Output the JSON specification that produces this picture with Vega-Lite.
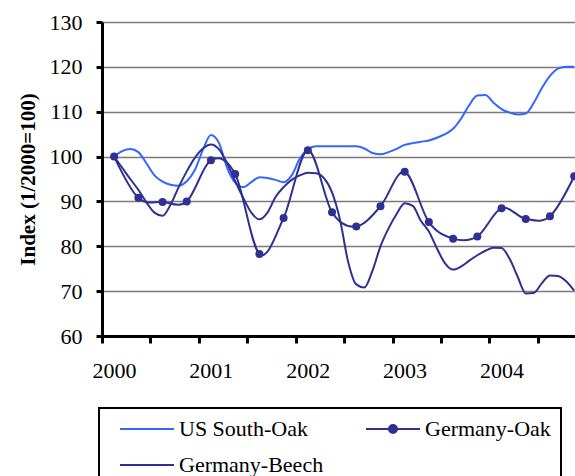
{
  "$schema": "https://vega.github.io/schema/vega-lite/v6.json",
  "autosize": {"type": "none"},
  "width": 473,
  "height": 314,
  "padding": {"left": 102, "top": 22, "right": 0, "bottom": 140},
  "config": {"view": {"stroke": null}, "font": "Liberation Serif"},
  "datasets": {
    "us": [
      {"series": "US South-Oak", "month": 0, "index": 100},
      {"series": "US South-Oak", "month": 1, "index": 101.2},
      {"series": "US South-Oak", "month": 2, "index": 101.7},
      {"series": "US South-Oak", "month": 3, "index": 101.0},
      {"series": "US South-Oak", "month": 4, "index": 98.5},
      {"series": "US South-Oak", "month": 5, "index": 95.8},
      {"series": "US South-Oak", "month": 6, "index": 94.4},
      {"series": "US South-Oak", "month": 7, "index": 93.7},
      {"series": "US South-Oak", "month": 8, "index": 93.5},
      {"series": "US South-Oak", "month": 9, "index": 94.5},
      {"series": "US South-Oak", "month": 10, "index": 97.0},
      {"series": "US South-Oak", "month": 11, "index": 101.5},
      {"series": "US South-Oak", "month": 12, "index": 104.8},
      {"series": "US South-Oak", "month": 13, "index": 103.0},
      {"series": "US South-Oak", "month": 14, "index": 97.5},
      {"series": "US South-Oak", "month": 15, "index": 94.2},
      {"series": "US South-Oak", "month": 16, "index": 93.2},
      {"series": "US South-Oak", "month": 17, "index": 94.3},
      {"series": "US South-Oak", "month": 18, "index": 95.4},
      {"series": "US South-Oak", "month": 19, "index": 95.2},
      {"series": "US South-Oak", "month": 20, "index": 94.8},
      {"series": "US South-Oak", "month": 21, "index": 94.3},
      {"series": "US South-Oak", "month": 22, "index": 95.8},
      {"series": "US South-Oak", "month": 23, "index": 99.5},
      {"series": "US South-Oak", "month": 24, "index": 101.6},
      {"series": "US South-Oak", "month": 25, "index": 102.3},
      {"series": "US South-Oak", "month": 26, "index": 102.3},
      {"series": "US South-Oak", "month": 27, "index": 102.3},
      {"series": "US South-Oak", "month": 28, "index": 102.3},
      {"series": "US South-Oak", "month": 29, "index": 102.3},
      {"series": "US South-Oak", "month": 30, "index": 102.3},
      {"series": "US South-Oak", "month": 31, "index": 101.8},
      {"series": "US South-Oak", "month": 32, "index": 100.8},
      {"series": "US South-Oak", "month": 33, "index": 100.5},
      {"series": "US South-Oak", "month": 34, "index": 101.0},
      {"series": "US South-Oak", "month": 35, "index": 101.7},
      {"series": "US South-Oak", "month": 36, "index": 102.6},
      {"series": "US South-Oak", "month": 37, "index": 103.0},
      {"series": "US South-Oak", "month": 38, "index": 103.3},
      {"series": "US South-Oak", "month": 39, "index": 103.6},
      {"series": "US South-Oak", "month": 40, "index": 104.2},
      {"series": "US South-Oak", "month": 41, "index": 105.0},
      {"series": "US South-Oak", "month": 42, "index": 106.2},
      {"series": "US South-Oak", "month": 43, "index": 108.5},
      {"series": "US South-Oak", "month": 44, "index": 111.5},
      {"series": "US South-Oak", "month": 45, "index": 113.6},
      {"series": "US South-Oak", "month": 46, "index": 113.7},
      {"series": "US South-Oak", "month": 47, "index": 112.0},
      {"series": "US South-Oak", "month": 48, "index": 110.6},
      {"series": "US South-Oak", "month": 49, "index": 109.8},
      {"series": "US South-Oak", "month": 50, "index": 109.4},
      {"series": "US South-Oak", "month": 51, "index": 109.6},
      {"series": "US South-Oak", "month": 52, "index": 112.0},
      {"series": "US South-Oak", "month": 53, "index": 115.3},
      {"series": "US South-Oak", "month": 54, "index": 118.0},
      {"series": "US South-Oak", "month": 55, "index": 119.6},
      {"series": "US South-Oak", "month": 56, "index": 120.0},
      {"series": "US South-Oak", "month": 57, "index": 120.0}
    ],
    "beech": [
      {"series": "Germany-Beech", "month": 0, "index": 100},
      {"series": "Germany-Beech", "month": 1, "index": 97.5},
      {"series": "Germany-Beech", "month": 2, "index": 95.0},
      {"series": "Germany-Beech", "month": 3, "index": 92.6},
      {"series": "Germany-Beech", "month": 4, "index": 89.8},
      {"series": "Germany-Beech", "month": 5, "index": 87.5},
      {"series": "Germany-Beech", "month": 6, "index": 86.8},
      {"series": "Germany-Beech", "month": 7, "index": 89.3},
      {"series": "Germany-Beech", "month": 8, "index": 93.2},
      {"series": "Germany-Beech", "month": 9, "index": 96.7},
      {"series": "Germany-Beech", "month": 10, "index": 99.7},
      {"series": "Germany-Beech", "month": 11, "index": 101.8},
      {"series": "Germany-Beech", "month": 12, "index": 102.7},
      {"series": "Germany-Beech", "month": 13, "index": 101.6},
      {"series": "Germany-Beech", "month": 14, "index": 98.5},
      {"series": "Germany-Beech", "month": 15, "index": 94.5},
      {"series": "Germany-Beech", "month": 16, "index": 90.8},
      {"series": "Germany-Beech", "month": 17, "index": 87.5},
      {"series": "Germany-Beech", "month": 18, "index": 86.0},
      {"series": "Germany-Beech", "month": 19, "index": 87.5},
      {"series": "Germany-Beech", "month": 20, "index": 91.0},
      {"series": "Germany-Beech", "month": 21, "index": 93.2},
      {"series": "Germany-Beech", "month": 22, "index": 94.8},
      {"series": "Germany-Beech", "month": 23, "index": 95.8},
      {"series": "Germany-Beech", "month": 24, "index": 96.4},
      {"series": "Germany-Beech", "month": 25, "index": 96.3},
      {"series": "Germany-Beech", "month": 26, "index": 95.2},
      {"series": "Germany-Beech", "month": 27, "index": 92.0},
      {"series": "Germany-Beech", "month": 28, "index": 85.8},
      {"series": "Germany-Beech", "month": 29, "index": 76.5},
      {"series": "Germany-Beech", "month": 30, "index": 71.5},
      {"series": "Germany-Beech", "month": 31, "index": 70.8},
      {"series": "Germany-Beech", "month": 32, "index": 74.5},
      {"series": "Germany-Beech", "month": 33, "index": 80.0},
      {"series": "Germany-Beech", "month": 34, "index": 84.0},
      {"series": "Germany-Beech", "month": 35, "index": 87.2},
      {"series": "Germany-Beech", "month": 36, "index": 89.6},
      {"series": "Germany-Beech", "month": 37, "index": 89.0},
      {"series": "Germany-Beech", "month": 38, "index": 85.7},
      {"series": "Germany-Beech", "month": 39, "index": 83.3},
      {"series": "Germany-Beech", "month": 40, "index": 79.5},
      {"series": "Germany-Beech", "month": 41, "index": 76.2},
      {"series": "Germany-Beech", "month": 42, "index": 74.8},
      {"series": "Germany-Beech", "month": 43, "index": 75.5},
      {"series": "Germany-Beech", "month": 44, "index": 76.8},
      {"series": "Germany-Beech", "month": 45, "index": 78.0},
      {"series": "Germany-Beech", "month": 46, "index": 79.0},
      {"series": "Germany-Beech", "month": 47, "index": 79.7},
      {"series": "Germany-Beech", "month": 48, "index": 79.6},
      {"series": "Germany-Beech", "month": 49, "index": 77.2},
      {"series": "Germany-Beech", "month": 50, "index": 73.2},
      {"series": "Germany-Beech", "month": 51, "index": 69.5},
      {"series": "Germany-Beech", "month": 52, "index": 69.6},
      {"series": "Germany-Beech", "month": 53, "index": 71.8},
      {"series": "Germany-Beech", "month": 54, "index": 73.5},
      {"series": "Germany-Beech", "month": 55, "index": 73.4},
      {"series": "Germany-Beech", "month": 56, "index": 72.2},
      {"series": "Germany-Beech", "month": 57, "index": 70.1}
    ],
    "oak": [
      {"series": "Germany-Oak", "month": 0, "index": 100},
      {"series": "Germany-Oak", "month": 3, "index": 90.8},
      {"series": "Germany-Oak", "month": 6, "index": 89.9},
      {"series": "Germany-Oak", "month": 9, "index": 90.0},
      {"series": "Germany-Oak", "month": 12, "index": 99.2},
      {"series": "Germany-Oak", "month": 15, "index": 96.1},
      {"series": "Germany-Oak", "month": 18, "index": 78.3},
      {"series": "Germany-Oak", "month": 21, "index": 86.3},
      {"series": "Germany-Oak", "month": 24, "index": 101.4},
      {"series": "Germany-Oak", "month": 27, "index": 87.6},
      {"series": "Germany-Oak", "month": 30, "index": 84.4},
      {"series": "Germany-Oak", "month": 33, "index": 88.9},
      {"series": "Germany-Oak", "month": 36, "index": 96.6},
      {"series": "Germany-Oak", "month": 39, "index": 85.4},
      {"series": "Germany-Oak", "month": 42, "index": 81.7},
      {"series": "Germany-Oak", "month": 45, "index": 82.2},
      {"series": "Germany-Oak", "month": 48, "index": 88.5},
      {"series": "Germany-Oak", "month": 51, "index": 86.1},
      {"series": "Germany-Oak", "month": 54, "index": 86.7},
      {"series": "Germany-Oak", "month": 57, "index": 95.6}
    ]
  },
  "encoding": {
    "x": {
      "field": "month",
      "type": "quantitative",
      "scale": {"domain": [-1.5, 57.1], "nice": false, "zero": false},
      "axis": {
        "values": [-1.5, 4.5, 10.5, 16.5, 22.5, 28.5, 34.5, 40.5, 46.5, 52.5],
        "labelExpr": "(datum.value + 1.5) % 12 == 0 ? '' + (2000 + (datum.value + 1.5) / 12) : ''",
        "labelOffset": 12,
        "title": null,
        "grid": false,
        "domainColor": "black",
        "domainWidth": 3,
        "tickColor": "black",
        "tickWidth": 3,
        "tickSize": 7,
        "labelFont": "Liberation Serif",
        "labelFontSize": 22,
        "labelColor": "black",
        "labelPadding": 17.5,
        "labelFlush": false,
        "labelOverlap": false,
        "labelBound": false
      }
    },
    "y": {
      "field": "index",
      "type": "quantitative",
      "scale": {"domain": [60, 130], "nice": false, "zero": false},
      "axis": {
        "values": [60, 70, 80, 90, 100, 110, 120, 130],
        "grid": true,
        "gridColor": "#7a7a7a",
        "gridWidth": 1.6,
        "domainColor": "black",
        "domainWidth": 3,
        "tickColor": "black",
        "tickWidth": 3,
        "tickSize": 6,
        "labelFont": "Liberation Serif",
        "labelFontSize": 22,
        "labelColor": "black",
        "labelPadding": 14,
        "title": "Index (1/2000=100)",
        "titleFont": "Liberation Serif",
        "titleFontSize": 21,
        "titleFontWeight": "bold",
        "titleColor": "black",
        "titlePadding": 11
      }
    }
  },
  "layer": [
    {
      "data": {"name": "us"},
      "mark": {"type": "line", "interpolate": "monotone", "strokeWidth": 2, "clip": true},
      "encoding": {
        "color": {
          "field": "series",
          "type": "nominal",
          "scale": {
            "domain": ["US South-Oak", "Germany-Oak", "Germany-Beech"],
            "range": ["#3366FF", "#2E3192", "#2E3192"]
          },
          "legend": {
            "orient": "none",
            "legendX": -3,
            "legendY": 386,
            "direction": "horizontal",
            "columns": 2,
            "title": null,
            "symbolType": "stroke",
            "symbolSize": 400,
            "symbolStrokeWidth": 2,
            "symbolOffset": 27,
            "labelOffset": 21,
            "labelFont": "Liberation Serif",
            "labelFontSize": 22,
            "labelColor": "black",
            "labelLimit": 400,
            "padding": 10,
            "rowPadding": 14,
            "columnPadding": 31,
            "gridAlign": "all",
            "strokeColor": "black",
            "encode": {
              "legend": {"update": {"strokeWidth": {"value": 2}}},
              "symbols": {
                "update": {
                  "shape": {"signal": "datum.value === 'Germany-Oak' ? 'M-2.7,0L2.7,0M0.4,0A0.4,0.4,0,1,1,-0.4,0A0.4,0.4,0,1,1,0.4,0Z' : 'M-2.7,0L2.7,0'"},
                  "fill": {"signal": "datum.value === 'Germany-Oak' ? '#2E3192' : 'transparent'"}
                }
              }
            }
          }
        }
      }
    },
    {
      "data": {"name": "beech"},
      "mark": {"type": "line", "interpolate": "monotone", "strokeWidth": 2, "clip": true},
      "encoding": {"color": {"field": "series", "type": "nominal"}}
    },
    {
      "data": {"name": "oak"},
      "mark": {"type": "line", "interpolate": "cardinal", "tension": 0, "strokeWidth": 2, "clip": true},
      "encoding": {"color": {"field": "series", "type": "nominal"}}
    },
    {
      "data": {"name": "oak"},
      "mark": {"type": "point", "filled": true, "size": 64, "opacity": 1, "color": "#2E3192", "clip": true},
      "encoding": {}
    }
  ]
}
